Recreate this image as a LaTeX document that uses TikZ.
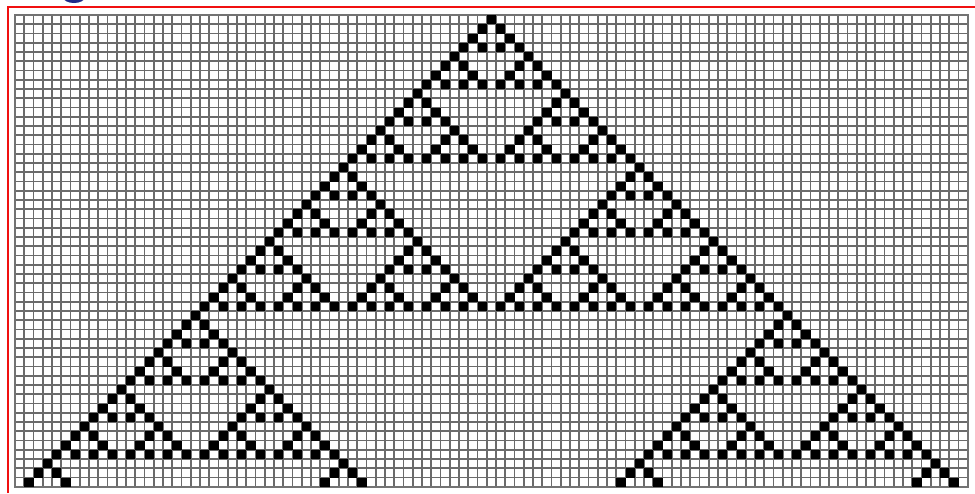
\documentclass[tikz,border=0pt]{standalone}
\usepackage{xcolor}
\definecolor{slideblue}{HTML}{1E2A8A}
\definecolor{framered}{HTML}{F01010}

\begin{document}
\begin{tikzpicture}[
  x=0.5pt,
  y={(0pt,-0.5pt)},
  gridline/.style={black!58, line width=0.8pt},
  gridedge/.style={black!55, line width=1pt},
  cell/.style={fill=black},
  frame/.style={framered, line width=0.8pt}
]
  \useasboundingbox (0,0) rectangle (975,493);
  \def\gx{15}
  \def\gy{15}
  \def\cw{9.25}

  %% ---- title fragment, cut by the top edge ------------------------------
  \begin{scope}
    \clip (0,0) rectangle (975,493);
    \fill[slideblue] (74,-3) ellipse (11 and 6);
  \end{scope}

  %% ---- red frame ----------------------------------------------------------
  \draw[frame] (8,493) -- (8,7) -- (975,7);

  %% ---- grid: 103 columns, 51 rows ----------------------------------------
  \foreach \i in {0,...,103}
    \draw[gridline] ({\gx+\i*\cw},\gy) -- ({\gx+\i*\cw},{\gy+51*\cw});
  \foreach \j in {0,...,51}
    \draw[gridline] (\gx,{\gy+\j*\cw}) -- ({\gx+103*\cw},{\gy+\j*\cw});
  \draw[gridedge] (\gx,\gy) rectangle ({\gx+103*\cw},{\gy+51*\cw});

  %% ---- rule 90 from one cell in column 51 --------------------------------
  %% cell (r,k) is black when C(r,k) is odd, i.e. k and r-k share no bit
  \foreach \r in {0,...,50} {
    \foreach \k in {0,...,\r} {
      \pgfmathtruncatemacro{\m}{\r-\k}
      \pgfmathtruncatemacro{\hit}{mod(\k,2)*mod(\m,2)
        +mod(floor(\k/2),2)*mod(floor(\m/2),2)
        +mod(floor(\k/4),2)*mod(floor(\m/4),2)
        +mod(floor(\k/8),2)*mod(floor(\m/8),2)
        +mod(floor(\k/16),2)*mod(floor(\m/16),2)
        +mod(floor(\k/32),2)*mod(floor(\m/32),2)}
      \ifnum\hit=0
        \pgfmathtruncatemacro{\c}{51-\r+2*\k}
        \fill[cell] ({\gx+\c*\cw},{\gy+\r*\cw}) rectangle +(\cw,\cw);
      \fi
    }
  }
\end{tikzpicture}
\end{document}
